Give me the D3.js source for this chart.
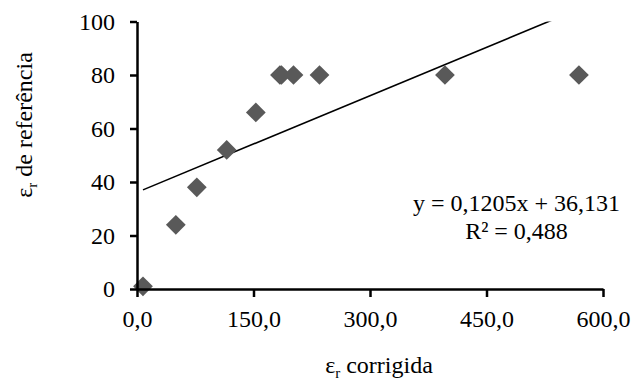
<!DOCTYPE html>
<html>
<head>
<meta charset="utf-8">
<script src="https://cdn.jsdelivr.net/npm/d3@7"></script>
<style>
  body { margin: 0; background: #fff; }
</style>
</head>
<body>
<div id="chart"></div>
<script>
// data
const xVals = [7.7, 50, 77, 115.5, 153, 184, 186, 201.5, 235, 396.5, 569];
const yVals = [1, 24, 38, 52, 66, 80, 80, 80, 80, 80, 80];
const xTicks = [0, 150, 300, 450, 600];
const yTicks = [0, 20, 40, 60, 80, 100];
const trend = {slope: 0.1205, intercept: 36.131};
const eqLines = ["y = 0,1205x + 36,131", "R² = 0,488"];

const serif = "Liberation Serif, Times New Roman, serif";
const fs = 24;

// dimensions and margins
const margin = {top: 21.5, right: 32, bottom: 94, left: 137},
  width = 635 - margin.left - margin.right,
  height = 383 - margin.top - margin.bottom;

const svg = d3.select("#chart")
  .append("svg")
  .attr("width", 635)
  .attr("height", 383)
  .attr("font-family", serif)
  .append("g")
  .attr("transform", "translate(" + margin.left + "," + margin.top + ")");

const x = d3.scaleLinear().domain([0, 600]).range([0, width]);
const y = d3.scaleLinear().domain([0, 100]).range([height, 0]);

// clip for trendline
svg.append("clipPath").attr("id", "plotclip")
  .append("rect").attr("x", 0).attr("y", 0).attr("width", width).attr("height", height);

// trendline over the data range
const xMin = d3.min(xVals), xMax = d3.max(xVals);
svg.append("line")
  .attr("clip-path", "url(#plotclip)")
  .attr("x1", x(xMin)).attr("y1", y(trend.slope * xMin + trend.intercept))
  .attr("x2", x(xMax)).attr("y2", y(trend.slope * xMax + trend.intercept))
  .attr("stroke", "#000")
  .attr("stroke-width", 1.6);

// points (square turned 45 deg)
svg.selectAll(".pt")
  .data(xVals)
  .enter().append("path")
  .attr("class", "pt")
  .attr("d", d3.symbol().type(d3.symbolSquare).size(195))
  .attr("transform", (d, i) => "translate(" + x(d) + "," + y(yVals[i]) + ") rotate(45)")
  .style("fill", "#595959");

// axes
const fmt = d => d3.format(".1f")(d).replace(".", ",");
const xAxis = svg.append("g")
  .attr("transform", "translate(0," + height + ")")
  .call(d3.axisBottom(x).tickValues(xTicks).tickFormat(fmt).tickSize(8).tickSizeOuter(0).tickPadding(13));
const yAxis = svg.append("g")
  .call(d3.axisLeft(y).tickValues(yTicks).tickSize(7).tickSizeOuter(0).tickPadding(15));

[xAxis, yAxis].forEach(g => {
  g.attr("font-family", serif).attr("font-size", fs);
  g.selectAll("text").attr("fill", "#000");
  g.selectAll("line").attr("stroke", "#000").attr("stroke-width", 2.5);
  g.select(".domain").attr("stroke", "#000").attr("stroke-width", 2.5);
});

// regression label
const eq = svg.append("text")
  .attr("text-anchor", "middle")
  .attr("font-size", fs);
eqLines.forEach((t, i) => {
  eq.append("tspan")
    .attr("x", 516.5 - margin.left)
    .attr("y", 210.7 - margin.top + i * 28.6)
    .text(t);
});

// axis titles
const xt = svg.append("text")
  .attr("x", 379 - margin.left)
  .attr("y", 373 - margin.top)
  .attr("text-anchor", "middle")
  .attr("font-size", fs);
xt.append("tspan").text("ε");
xt.append("tspan").attr("dy", 5).attr("font-size", 15).text("r");
xt.append("tspan").attr("dy", -5).text(" corrigida");

const yt = svg.append("text")
  .attr("transform", "translate(" + (32 - margin.left) + "," + (125 - margin.top) + ") rotate(-90)")
  .attr("text-anchor", "middle")
  .attr("font-size", fs);
yt.append("tspan").text("ε");
yt.append("tspan").attr("dy", 5).attr("font-size", 15).text("r");
yt.append("tspan").attr("dy", -5).text(" de referência");
</script>
</body>
</html>
